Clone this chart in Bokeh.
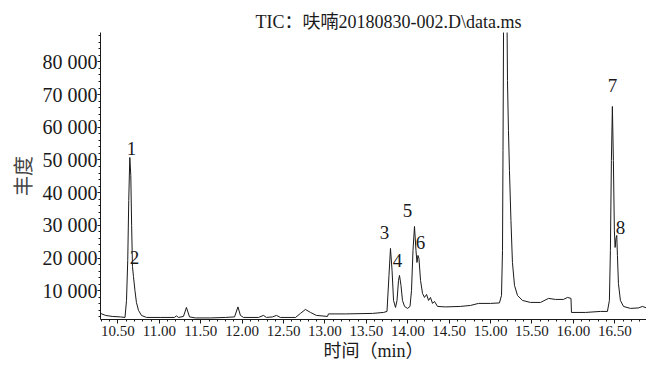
from bokeh.plotting import figure
from bokeh.models import Range1d, FixedTicker, ColumnDataSource
from bokeh.core.properties import value
from bokeh.embed import file_html
from bokeh.resources import INLINE

# ---- data ----
time_min = [10.29, 10.35, 10.43, 10.53, 10.585, 10.603, 10.618, 10.63, 10.643, 10.655,
            10.665, 10.675, 10.687, 10.705, 10.723, 10.748, 10.784, 10.844, 11.01, 11.18,
            11.207, 11.231, 11.291, 11.327, 11.364, 11.436, 11.617, 11.798, 11.908, 11.949,
            11.979, 12.016, 12.197, 12.257, 12.293, 12.366, 12.414, 12.462, 12.644, 12.704,
            12.764, 12.825, 12.897, 13.03, 13.042, 13.248, 13.574, 13.707, 13.749, 13.773,
            13.791, 13.81, 13.828, 13.852, 13.87, 13.888, 13.9, 13.918, 13.936, 13.961,
            13.997, 14.027, 14.045, 14.063, 14.081, 14.099, 14.111, 14.123, 14.135, 14.154,
            14.178, 14.202, 14.227, 14.251, 14.274, 14.299, 14.323, 14.359, 14.455, 14.636,
            14.757, 14.854, 14.999, 15.107, 15.132, 15.144, 15.15, 15.162, 15.175, 15.19,
            15.198, 15.204, 15.216, 15.228, 15.246, 15.264, 15.289, 15.325, 15.385, 15.482,
            15.603, 15.7, 15.784, 15.88, 15.929, 15.971, 15.977, 16.146, 16.327, 16.411,
            16.435, 16.447, 16.459, 16.471, 16.483, 16.495, 16.504, 16.514, 16.524, 16.532,
            16.544, 16.568, 16.605, 16.689, 16.786, 16.834, 16.883]
abundance = [3060, 2450, 2140, 1990, 1830, 7030, 19270, 37600, 50760, 45260,
             29970, 17430, 14370, 10090, 6420, 3980, 2450, 1830, 1830, 1830,
             2290, 1830, 2140, 4890, 1990, 1680, 1680, 1830, 1990, 5050,
             2450, 1830, 1830, 2450, 1830, 1990, 2450, 1830, 1830, 3060,
             4280, 3360, 2450, 2140, 2910, 2910, 3060, 3360, 3670, 14680,
             22940, 16210, 7030, 4890, 7030, 13150, 14680, 11620, 7030, 5200,
             4590, 5200, 10090, 22320, 29660, 22320, 18650, 20790, 19880, 13150,
             9170, 7950, 8870, 7030, 7950, 6120, 6730, 5200, 5050, 5200,
             5500, 6120, 6120, 6270, 8560, 22320, 52900, 120000, 180000, 130000,
             95000, 74300, 59000, 46800, 31500, 18650, 11620, 8560, 7030, 6420,
             6420, 7650, 7340, 7340, 7950, 7650, 3360, 3360, 3670, 3670,
             7030, 22320, 49850, 66360, 49850, 28440, 23240, 25990, 26910, 20790,
             12230, 7030, 5200, 4590, 4740, 5200, 4740]

peak_ids = ["1", "2", "3", "4", "5", "6", "7", "8"]
peak_label_t = [10.663, 10.699, 13.719, 13.876, 13.996, 14.153, 16.471, 16.568]
peak_label_v = [53500, 20180, 27830, 19270, 34560, 24770, 72780, 29360]

x_ticks = [10.5, 11.0, 11.5, 12.0, 12.5, 13.0, 13.5, 14.0, 14.5, 15.0, 15.5, 16.0, 16.5]
x_tick_labels = ["10.50", "11.00", "11.50", "12.00", "12.50", "13.00", "13.50",
                 "14.00", "14.50", "15.00", "15.50", "16.00", "16.50"]
y_ticks = [10000, 20000, 30000, 40000, 50000, 60000, 70000, 80000]
y_tick_labels = ["10 000", "20 000", "30 000", "40 000", "50 000", "60 000", "70 000", "80 000"]

title_text = "TIC：呋喃20180830-002.D\\data.ms"
x_label = "时间（min）"
y_label = "丰度"

FONT = "Liberation Serif, Noto Sans CJK SC"
INK = "#1a1a1a"

p = figure(width=646, height=365, output_backend="svg", toolbar_location=None,
           x_range=Range1d(10.289, 16.883), y_range=Range1d(1200, 89000),
           title=title_text,
           min_border_left=100, min_border_right=0, min_border_top=32, min_border_bottom=46)

p.title.align = "left"
p.title.offset = 155
p.title.text_font = FONT
p.title.text_font_size = "18px"
p.title.text_font_style = "normal"
p.title.text_color = INK
p.title.standoff = 2

p.outline_line_color = None
p.xgrid.visible = False
p.ygrid.visible = False
p.background_fill_color = "white"
p.border_fill_color = "white"

# x axis
p.xaxis.ticker = FixedTicker(ticks=x_ticks,
                             minor_ticks=[round(10.3 + 0.1 * i, 1) for i in range(66)])
p.xaxis.major_label_overrides = dict(zip(x_ticks, x_tick_labels))
p.xaxis.axis_label = x_label
p.xaxis.axis_label_text_font = FONT
p.xaxis.axis_label_text_font_size = "18px"
p.xaxis.axis_label_text_font_style = "normal"
p.xaxis.axis_label_text_color = INK
p.xaxis.axis_label_standoff = 2
p.xaxis.major_label_text_font = FONT
p.xaxis.major_label_text_font_size = "15px"
p.xaxis.major_label_text_color = INK
p.xaxis.major_label_standoff = 2
p.xaxis.major_tick_in = 0
p.xaxis.major_tick_out = 4
p.xaxis.minor_tick_in = 0
p.xaxis.minor_tick_out = 2
p.xaxis.axis_line_color = INK
p.xaxis.major_tick_line_color = INK
p.xaxis.minor_tick_line_color = INK

# y axis
p.yaxis.ticker = FixedTicker(ticks=y_ticks,
                             minor_ticks=[2000 * i for i in range(1, 45)])
p.yaxis.major_label_overrides = dict(zip(y_ticks, y_tick_labels))
p.yaxis.axis_label = y_label
p.yaxis.axis_label_text_font = FONT
p.yaxis.axis_label_text_font_size = "20px"
p.yaxis.axis_label_text_font_style = "normal"
p.yaxis.axis_label_text_color = "#444444"
p.yaxis.axis_label_standoff = 5
p.yaxis.major_label_text_font = FONT
p.yaxis.major_label_text_font_size = "20px"
p.yaxis.major_label_text_color = INK
p.yaxis.major_label_standoff = 0
p.yaxis.major_tick_in = 0
p.yaxis.major_tick_out = 3
p.yaxis.minor_tick_in = 0
p.yaxis.minor_tick_out = 2
p.yaxis.axis_line_color = INK
p.yaxis.major_tick_line_color = INK
p.yaxis.minor_tick_line_color = INK

p.line(time_min, abundance, line_color=INK, line_width=1)

src = ColumnDataSource(dict(t=peak_label_t, v=peak_label_v, s=peak_ids))
p.text(x="t", y="v", text="s", source=src, text_font=value(FONT),
       text_font_size="19px", text_align="center", text_baseline="middle",
       text_color=INK)

open("out.html", "w").write(file_html(p, INLINE))
